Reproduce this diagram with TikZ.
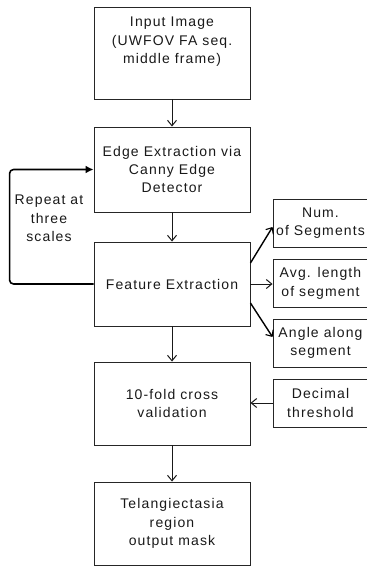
\documentclass[tikz,border=0pt]{standalone}
\usepackage{fontspec}
\setmainfont{Liberation Sans}[LetterSpace=8]
\usetikzlibrary{arrows.meta,calc}
\tikzset{
  box/.style={draw=black!85, line width=0.9pt, rectangle, inner sep=0pt},
  mainbox/.style={box, minimum width=156pt},
  sidebox/.style={box, minimum width=95pt, minimum height=48pt},
  txt/.style={font=\fontsize{14}{18.3}\selectfont, align=center, text=black!90, inner sep=0pt},
  flow/.style={draw=black!90, line width=0.9pt, -{Straight Barb[length=5.5pt,width=9pt,line width=1pt]}},
  diag/.style={draw=black, line width=1.4pt, -{Straight Barb[length=5pt,width=9pt,line width=1.1pt]}},
  loopline/.style={draw=black, line width=1.6pt, rounded corners=4pt, -{Latex[length=8pt,width=8pt]}}
}
\begin{document}
\begin{tikzpicture}[x=1pt,y=-1pt]
\useasboundingbox (0,0) rectangle (367,568);
% main column
\node[mainbox, minimum height=92pt] (in) at (172,53) {};
\node[txt] (intxt) at (172,41.7) {Input Image\\(UWFOV FA seq.\\middle frame)};
\node[mainbox, minimum height=85pt, txt] (ee) at (172,169.5) {Edge Extraction via\\Canny Edge\\Detector};
\node[mainbox, minimum height=84pt, txt] (fe) at (172,284) {Feature Extraction};
\node[mainbox, minimum height=83pt, txt] (cv) at (172,403.5) {10-fold cross\\validation};
\node[mainbox, minimum height=83pt, txt] (out) at (172,523.5) {Telangiectasia\\region\\output mask};
% side boxes
\node[sidebox, txt] (num) at (320.5,223) {Num.\\of Segments};
\node[sidebox, txt] (avg) at (320.5,283.5) {Avg. length\\of segment};
\node[sidebox, txt] (ang) at (320.5,343) {Angle along\\segment};
\node[sidebox, txt] (dec) at (320.5,403) {Decimal\\threshold};
% loop label
\node[txt] (rep) at (49,218.5) {Repeat at\\three\\scales};
% connectors
\draw[flow] (in) -- (ee);
\draw[flow] (ee) -- (fe);
\draw[flow] (fe) -- (cv);
\draw[flow] (cv) -- (out);
\draw[loopline] (fe.west) -- ++(-84,0) |- (ee.west);
\draw[diag] ($(fe.east)+(0,-21)$) -- ($(num.west)+(0,4)$);
\draw[flow] (fe.east) -- (fe.east -| avg.west);
\draw[diag] ($(fe.east)+(0,19)$) -- ($(ang.west)+(0,-6)$);
\draw[flow] (dec.west) -- (dec.west -| cv.east);
\end{tikzpicture}
\end{document}
